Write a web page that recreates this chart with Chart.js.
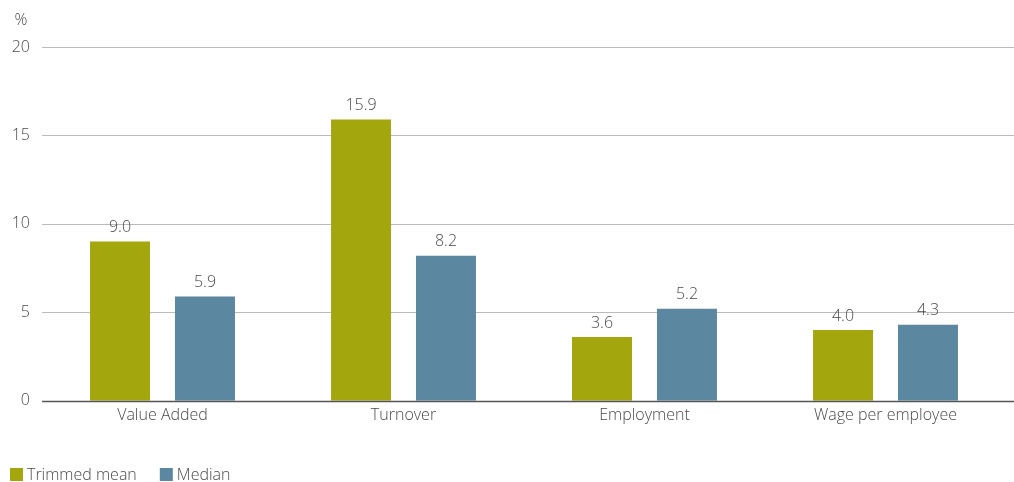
<!DOCTYPE html>
<html>
<head>
<meta charset="utf-8">
<script src="https://cdn.jsdelivr.net/npm/chart.js@4"></script>
<style>
  html, body { margin: 0; padding: 0; background: #fff; }
  #wrap { width: 1014px; height: 482px; }
</style>
</head>
<body>
<div id="wrap"><canvas id="growthChart"></canvas></div>
<script>
const categories = ['Value Added', 'Turnover', 'Employment', 'Wage per employee'];
const trimmedMean = [9.0, 15.9, 3.6, 4.0];
const median = [5.9, 8.2, 5.2, 4.3];
const yTicks = [0, 5, 10, 15, 20];

const textColor = '#4a4a4a';
const fontFamily = '"Open Sans", "Noto Sans", sans-serif';
const baseFont = { family: fontFamily, size: 16, weight: 300 };

// horizontal rules run to the right edge of the canvas, the zero line sits over the bars
function drawRule(chart, value, color, width) {
    const ctx = chart.ctx;
    const y = Math.round(chart.scales.y.getPixelForValue(value)) + 0.5;
    ctx.save();
    ctx.strokeStyle = color;
    ctx.lineWidth = width;
    ctx.beginPath();
    ctx.moveTo(chart.chartArea.left, y);
    ctx.lineTo(chart.width, y);
    ctx.stroke();
    ctx.restore();
}

const gridRules = {
    id: 'gridRules',
    beforeDatasetsDraw(chart) {
        yTicks.forEach(function (v) {
            if (v !== 0) drawRule(chart, v, '#bbbbbb', 1);
        });
    },
    afterDatasetsDraw(chart) {
        drawRule(chart, 0, '#555555', 1.5);
    }
};

// value labels above each bar, the "%" unit over the y axis and a flat legend row
const barLabels = {
    id: 'barLabels',
    afterDatasetsDraw(chart) {
        const ctx = chart.ctx;
        ctx.save();
        ctx.fillStyle = textColor;
        ctx.font = '300 16px ' + fontFamily;
        ctx.textAlign = 'center';
        ctx.textBaseline = 'bottom';
        chart.data.datasets.forEach(function (ds, i) {
            chart.getDatasetMeta(i).data.forEach(function (bar, j) {
                ctx.fillText(ds.data[j].toFixed(1), bar.x, bar.y - 6);
            });
        });
        ctx.fillText('%', 21, 28);

        // legend
        let x = 10;
        const y = 475;
        ctx.textAlign = 'left';
        ctx.textBaseline = 'middle';
        chart.data.datasets.forEach(function (ds) {
            ctx.fillStyle = ds.backgroundColor;
            ctx.fillRect(x, y - 7, 13, 13);
            ctx.fillStyle = textColor;
            ctx.fillText(ds.label, x + 17, y);
            x += 17 + ctx.measureText(ds.label).width + 23;
        });
        ctx.restore();
    }
};

let ctx = document.getElementById('growthChart');
let growthChart = new Chart(ctx, {
    type: 'bar',
    data: {
        labels: categories,
        datasets: [
            {
                label: 'Trimmed mean',
                data: trimmedMean,
                backgroundColor: '#A3A60D'
            },
            {
                label: 'Median',
                data: median,
                backgroundColor: '#5B87A0'
            }
        ]
    },
    options: {
        responsive: true,
        maintainAspectRatio: false,
        animation: false,
        layout: {
            padding: { top: 47, right: 8, left: 0, bottom: 52 }
        },
        datasets: {
            bar: { categoryPercentage: 0.705, barPercentage: 0.706 }
        },
        plugins: {
            legend: { display: false },
            tooltip: { enabled: false }
        },
        scales: {
            x: {
                grid: { display: false, drawTicks: false },
                border: { display: false },
                ticks: {
                    color: textColor,
                    font: baseFont,
                    padding: 5
                }
            },
            y: {
                min: 0,
                max: 20,
                afterBuildTicks: function (scale) {
                    scale.ticks = yTicks.map(v => ({ value: v }));
                },
                afterFit: function (scale) {
                    scale.width = 42;
                },
                border: { display: false },
                grid: { display: false, drawTicks: false },
                ticks: {
                    color: textColor,
                    font: baseFont,
                    padding: 12
                }
            }
        }
    },
    plugins: [gridRules, barLabels]
});
</script>
</body>
</html>
